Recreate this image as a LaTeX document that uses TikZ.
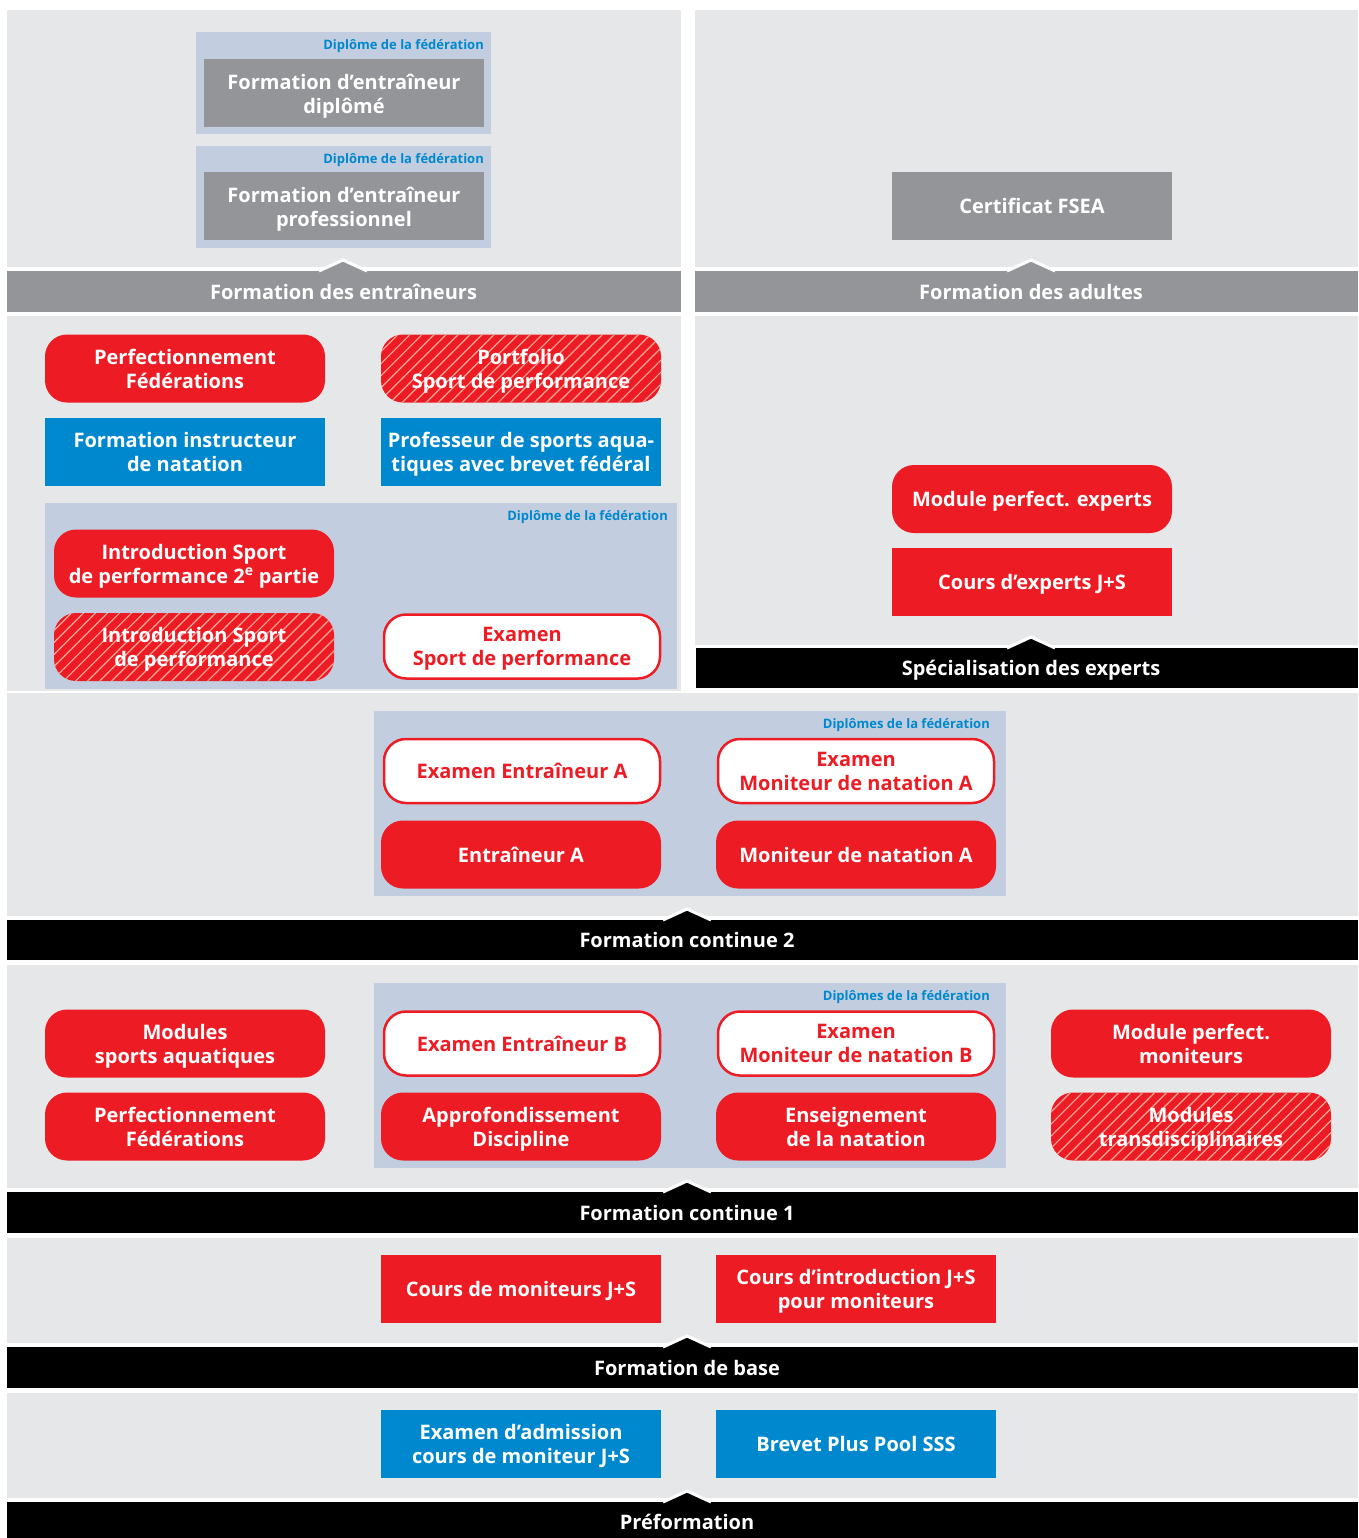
\documentclass[tikz,border=0pt]{standalone}
\usepackage{fontspec}
\setmainfont{Open Sans}
\usetikzlibrary{patterns.meta}
\definecolor{panelgrey}{HTML}{E6E7E8}
\definecolor{bargrey}{HTML}{939598}
\definecolor{fedblue}{HTML}{C2CEDF}
\definecolor{jsred}{HTML}{ED1C24}
\definecolor{jsblue}{HTML}{0088CE}
\definecolor{hatchpink}{HTML}{F7A899}
\newcommand\boxfont{\fontsize{20}{24}\selectfont\bfseries}
\newcommand\fedfont{\fontsize{13}{15}\selectfont\bfseries}
\newcommand\barpeak[3]{\filldraw[fill=#3,draw=white,line width=3pt] (#1-24,#2) -- (#1,#2-11) -- (#1+24,#2);}
\tikzset{
  box/.style={minimum width=280pt, minimum height=68pt, inner sep=0pt, align=center, font=\boxfont, text=white, text depth=-2pt},
  redpill/.style={box, fill=jsred, rounded corners=22pt},
  redbox/.style={box, fill=jsred},
  bluebox/.style={box, fill=jsblue},
  greybox/.style={box, fill=bargrey},
  exambox/.style={box, minimum width=276pt, minimum height=64pt, fill=white, draw=jsred, line width=2.5pt, text=jsred, rounded corners=22pt},
  hatchpill/.style={redpill, preaction={fill=jsred}, pattern={Lines[angle=45,distance=8.5pt,line width=1.2pt]}, pattern color=hatchpink},
  fedlabel/.style={anchor=east, inner sep=0pt, font=\fedfont, text=jsblue},
  barlabel/.style={inner sep=0pt, font=\boxfont, text=white, text depth=-1pt},
}
\begin{document}
\begin{tikzpicture}[x=1pt,y=-1pt]
\useasboundingbox (0,0) rectangle (1358,1538);
\fill[white] (0,0) rectangle (1358,1538);

\fill[panelgrey] (7,10) rectangle (681,267);
\fill[panelgrey] (695,10) rectangle (1358,267);
\fill[panelgrey] (7,316) rectangle (681,691);
\fill[panelgrey] (695,316) rectangle (1358,645);
\fill[panelgrey] (7,693) rectangle (1358,916);
\fill[panelgrey] (7,965) rectangle (1358,1188);
\fill[panelgrey] (7,1238) rectangle (1358,1343);
\fill[panelgrey] (7,1393) rectangle (1358,1498);

\fill[fedblue] (196,32) rectangle (491,134);
\fill[fedblue] (196,146) rectangle (491,248);
\fill[fedblue] (45,503) rectangle (677,689);
\fill[fedblue] (374,711) rectangle (1006,896);
\fill[fedblue] (374,983) rectangle (1006,1168);

\fill[bargrey] (7,271) rectangle (681,312);
\fill[bargrey] (695,271) rectangle (1358,312);
\fill (696,648) rectangle (1358,688);
\fill (7,920) rectangle (1358,960);
\fill (7,1192) rectangle (1358,1233);
\fill (7,1347) rectangle (1358,1388);
\fill (7,1502) rectangle (1358,1538);

\barpeak{343}{271}{bargrey}
\barpeak{1031}{271}{bargrey}
\barpeak{1031}{648}{black}
\barpeak{687}{920}{black}
\barpeak{687}{1192}{black}
\barpeak{687}{1347}{black}
\barpeak{687}{1502}{black}

\node[fedlabel] (fed1) at (484,46.5) {Diplôme de la fédération};
\node[greybox] (dipl) at (344,93.5) {Formation d’entraîneur\\diplômé};
\node[fedlabel] (fed2) at (484,160.5) {Diplôme de la fédération};
\node[greybox] (prof) at (344,206.5) {Formation d’entraîneur\\professionnel};
\node[greybox] (fsea) at (1032,206) {Certificat FSEA};
\node[barlabel] (entr) at (343.5,291.5) {Formation des entraîneurs};
\node[barlabel] (adul) at (1031,291.5) {Formation des adultes};

\node[redpill] (perf1) at (185,368.5) {Perfectionnement\\Fédérations};
\node[hatchpill] (portf) at (521,368.5) {Portfolio\\Sport de performance};
\node[bluebox] (instr) at (185,452) {Formation instructeur\\de natation};
\node[bluebox] (profsp) at (521,452) {Professeur de sports aqua-\\tiques avec brevet fédéral};
\node[fedlabel] (fed3) at (668,517.5) {Diplôme de la fédération};
\node[redpill] (intro2) at (194,563.5) {Introduction Sport\\de performance 2\textsuperscript{e} partie};
\node[hatchpill] (intro1) at (194,647) {Introduction Sport\\de performance};
\node[exambox] (exsp) at (522,646.5) {Examen\\Sport de performance};

\node[redpill] (modexp) at (1032,499) {Module perfect. experts};
\node[redbox] (coursexp) at (1032,582) {Cours d’experts J+S};
\node[barlabel] (spec) at (1031,668) {Spécialisation des experts};

\node[fedlabel] (fed4) at (990,725.5) {Diplômes de la fédération};
\node[exambox] (exea) at (522,771) {Examen Entraîneur A};
\node[exambox] (exma) at (856,771) {Examen\\Moniteur de natation A};
\node[redpill] (entra) at (521,854.5) {Entraîneur A};
\node[redpill] (mona) at (856,854.5) {Moniteur de natation A};
\node[barlabel] (fc2) at (687,940) {Formation continue 2};

\node[redpill] (modaq) at (185,1043.5) {Modules\\sports aquatiques};
\node[redpill] (perf2) at (185,1126.5) {Perfectionnement\\Fédérations};
\node[fedlabel] (fed5) at (990,997.5) {Diplômes de la fédération};
\node[exambox] (exeb) at (522,1043.5) {Examen Entraîneur B};
\node[exambox] (exmb) at (856,1043.5) {Examen\\Moniteur de natation B};
\node[redpill] (appr) at (521,1126.5) {Approfondissement\\Discipline};
\node[redpill] (ens) at (856,1126.5) {Enseignement\\de la natation};
\node[redpill] (modmon) at (1191,1043.5) {Module perfect.\\moniteurs};
\node[hatchpill] (modtr) at (1191,1126.5) {Modules\\transdisciplinaires};
\node[barlabel] (fc1) at (687,1212.5) {Formation continue 1};

\node[redbox] (coursmon) at (521,1289) {Cours de moniteurs J+S};
\node[redbox] (coursintro) at (856,1289) {Cours d’introduction J+S\\pour moniteurs};
\node[barlabel] (base) at (687,1367.5) {Formation de base};

\node[bluebox] (exadm) at (521,1444) {Examen d’admission\\cours de moniteur J+S};
\node[bluebox] (brevet) at (856,1444) {Brevet Plus Pool SSS};
\node[barlabel] (pref) at (687,1522) {Préformation};
\end{tikzpicture}
\end{document}
